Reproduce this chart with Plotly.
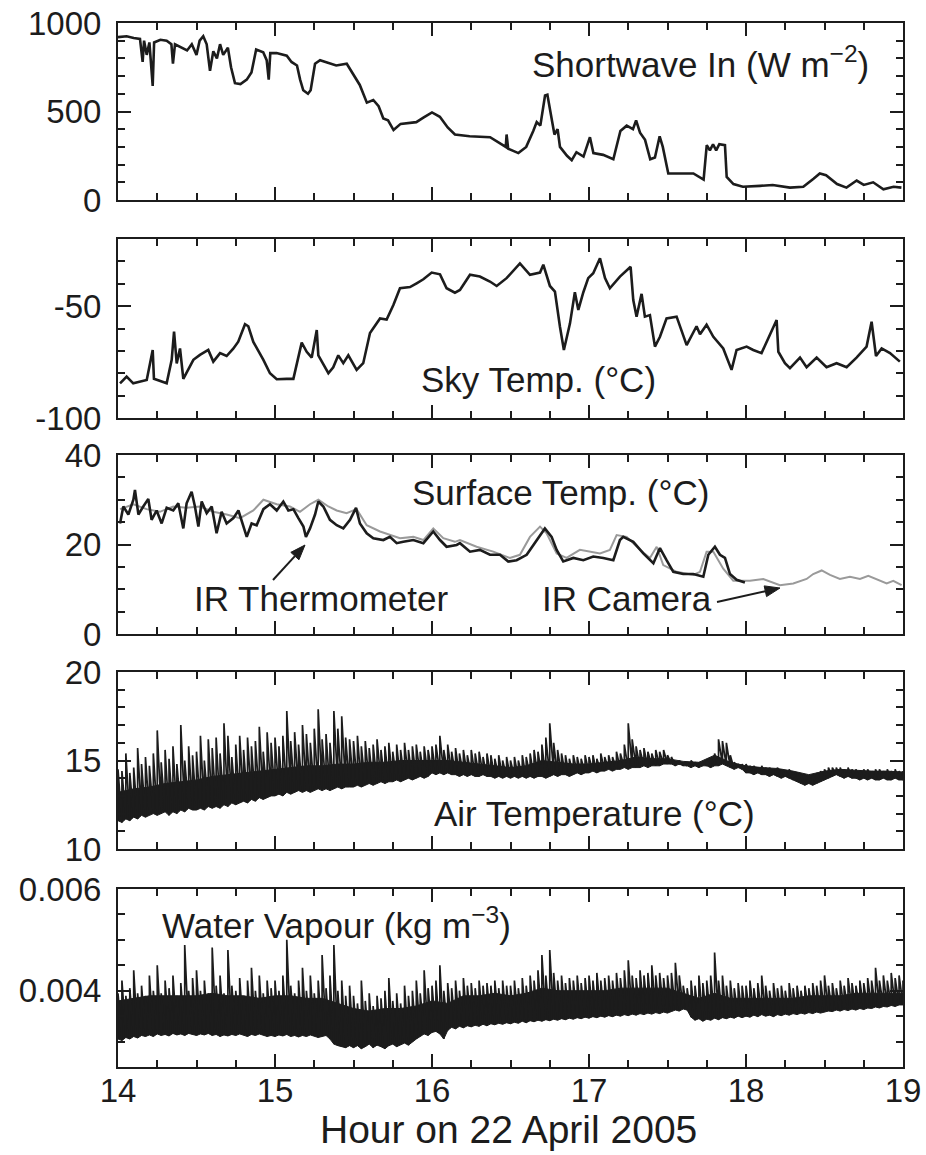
import numpy as np
import plotly.graph_objects as go

# ---------------------------------------------------------------------------
# Measurements, 22 April 2005, 14:00-19:00
# ---------------------------------------------------------------------------

# Shortwave in (W m-2)
sw_hour = [14.00, 14.055, 14.10, 14.14, 14.157, 14.166, 14.183, 14.20, 14.221, 14.23,
           14.27, 14.31, 14.34, 14.35, 14.363, 14.405, 14.44, 14.47, 14.50, 14.52,
           14.543, 14.565, 14.586, 14.607, 14.63, 14.65, 14.67, 14.70, 14.72, 14.745,
           14.78, 14.82, 14.85, 14.88, 14.925, 14.947, 14.96, 14.97, 15.01, 15.075,
           15.105, 15.14, 15.16, 15.18, 15.21, 15.227, 15.255, 15.287, 15.35, 15.39,
           15.457, 15.50, 15.54, 15.585, 15.626, 15.66, 15.69, 15.72, 15.755, 15.80,
           15.86, 15.90, 15.945, 16.00, 16.05, 16.10, 16.146, 16.24, 16.37, 16.43,
           16.47, 16.475, 16.485, 16.55, 16.60, 16.645, 16.667, 16.69, 16.72, 16.735,
           16.75, 16.77, 16.78, 16.80, 16.815, 16.86, 16.89, 16.92, 16.965, 17.006,
           17.028, 17.09, 17.155, 17.20, 17.24, 17.28, 17.30, 17.325, 17.357, 17.39,
           17.42, 17.45, 17.47, 17.505, 17.58, 17.665, 17.73, 17.75, 17.77, 17.79,
           17.81, 17.83, 17.866, 17.877, 17.92, 17.98, 18.09, 18.17, 18.28, 18.365,
           18.43, 18.47, 18.51, 18.58, 18.64, 18.705, 18.75, 18.81, 18.875, 18.94,
           18.99]
sw_val = [920, 925, 915, 910, 780, 900, 820, 890, 645, 890,
          905, 900, 880, 770, 880, 860, 845, 880, 820, 900,
          925, 880, 730, 840, 800, 880, 820, 860, 750, 660,
          655, 680, 720, 850, 835, 790, 680, 830, 830, 815,
          780, 760, 680, 620, 600, 620, 770, 790, 770, 760,
          770, 710, 650, 550, 565, 530, 460, 450, 395, 430,
          435, 440, 465, 495, 470, 410, 370, 360, 355, 320,
          300, 370, 290, 265, 300, 390, 440, 420, 590, 595,
          510, 420, 370, 400, 300, 250, 225, 270, 245, 355,
          265, 255, 230, 390, 420, 400, 450, 380, 340, 230,
          240, 360, 300, 150, 150, 150, 115, 310, 280, 315,
          280, 315, 310, 130, 90, 75, 80, 85, 70, 75,
          120, 150, 140, 90, 70, 110, 85, 100, 60, 75,
          70]

# Sky temperature (deg C)
sky_hour = [14.013, 14.055, 14.097, 14.183, 14.221, 14.229, 14.31, 14.342, 14.357, 14.374,
            14.395, 14.416, 14.48, 14.522, 14.575, 14.607, 14.65, 14.692, 14.734, 14.766,
            14.809, 14.83, 14.862, 14.926, 14.968, 15.011, 15.074, 15.117, 15.17, 15.202,
            15.234, 15.266, 15.276, 15.34, 15.371, 15.403, 15.435, 15.467, 15.52, 15.562,
            15.605, 15.669, 15.711, 15.754, 15.796, 15.86, 15.902, 15.945, 15.998, 16.051,
            16.093, 16.146,
            16.178, 16.242, 16.305, 16.369, 16.412, 16.475, 16.56, 16.624, 16.688, 16.709,
            16.751, 16.783, 16.815, 16.84, 16.879, 16.91, 16.932, 16.964, 16.995, 17.027,
            17.07, 17.102, 17.133, 17.197, 17.265, 17.282, 17.303, 17.335, 17.356, 17.388,
            17.42, 17.452, 17.494, 17.558, 17.622, 17.685, 17.707, 17.749, 17.792, 17.855,
            17.908, 17.94, 18.004, 18.046, 18.099, 18.152, 18.195, 18.206, 18.248, 18.28,
            18.344, 18.386, 18.45, 18.513, 18.577, 18.641, 18.704, 18.768, 18.8, 18.828,
            18.864, 18.917, 18.98]
sky_val = [-84.5, -81.5, -84.5, -83, -69.6, -82.5, -84.5, -74, -61.4, -75.6,
           -68.9, -82.5, -74, -71.8, -69.6, -74.8, -71, -72.3, -69, -65.9,
           -58.1, -59, -66, -74, -80, -82.7, -82.5, -82.5, -66.3, -70.4,
           -73, -60.7, -72, -80, -77.3, -72, -75.5, -72, -78.5, -75.5,
           -62, -55.5, -56, -49.5, -42, -41.5, -39.8, -38, -35, -35.8,
           -42, -44,
           -42.8, -36, -36.8, -39, -41, -37.5, -30.9, -36, -35, -31.5,
           -41, -43.5, -59.2, -69.6, -57.7, -43.8, -51.7, -43.8, -37.5, -35.3,
           -28.6, -37.5, -42, -36.8, -32.4, -47.3, -54.7, -44.5, -54.7, -54,
           -68.1, -63.7, -55.5, -54.7, -67.4, -59, -62.6, -58.3, -63.7, -68.9,
           -78.5, -69.6, -68.1, -69.6, -71, -62.6, -56.2, -70.4, -75.5, -77.7,
           -73, -77.3, -73, -77.3, -75.5, -77.3, -73, -68.1, -57, -72.3,
           -68.9, -71, -74.8]

# Surface temperature (deg C), IR thermometer
irt_hour = [14.013, 14.034, 14.066, 14.098, 14.108, 14.13, 14.161, 14.193, 14.214, 14.246,
            14.278, 14.31, 14.352, 14.384, 14.416, 14.437, 14.469, 14.49, 14.512, 14.533,
            14.565, 14.597, 14.628, 14.66, 14.692, 14.735, 14.767, 14.798, 14.82, 14.851,
            14.883, 14.926, 14.968, 15.011, 15.053, 15.085, 15.117, 15.149, 15.181, 15.197,
            15.223, 15.255, 15.276, 15.308, 15.35, 15.393, 15.435, 15.478, 15.516, 15.541,
            15.584, 15.626, 15.69, 15.732, 15.775, 15.817, 15.881, 15.945, 16.008, 16.051,
            16.093, 16.157,
            16.178, 16.242, 16.305, 16.369, 16.433, 16.486, 16.539, 16.603, 16.666, 16.719,
            16.762, 16.794, 16.836, 16.9, 16.964, 17.027, 17.091, 17.155, 17.197, 17.218,
            17.282, 17.346, 17.41, 17.452, 17.494, 17.537, 17.6, 17.664, 17.728, 17.76,
            17.802, 17.834, 17.866, 17.898, 17.94, 17.993]
irt_val = [24.7, 28.5, 26.7, 30, 32.2, 26.7, 28.5, 30.2, 25.5, 27.6,
           24.7, 28.2, 27.6, 29.2, 23.6, 29.2, 31.8, 28.5, 24, 29.6,
           27, 28.5, 22.5, 27.3, 24.7, 25.9, 27.6, 24, 21.7, 24.7,
           24.3, 27.9, 29, 27.6, 29.6, 27.6, 27.9, 25.9, 24, 21.7,
           23.6, 26.7, 29.6, 28.5, 25.5, 24.3, 23.6, 25.5, 28.2, 24.7,
           22.5, 21.4, 21, 21.7, 20.3, 20.6, 21, 20.3, 22.9, 21,
           19.5, 19.9,
           20.3, 18.4, 18.8, 17.7, 17.7, 16.2, 16.5, 17.7, 21, 23.6,
           21.7, 18.8, 16.2, 17, 16.5, 17.3, 17, 16.5, 21, 21.7,
           20.6, 18, 15.8, 19.2, 16.5, 13.9, 13.4, 13.4, 12.8, 17.7,
           19.5, 17.7, 17, 13.4, 12.1, 11.5]

# Surface temperature (deg C), IR camera
cam_hour = [14.013, 14.098, 14.182, 14.267, 14.352, 14.437, 14.522, 14.607, 14.692, 14.777,
            14.862, 14.926, 15.011, 15.095, 15.159, 15.223, 15.276, 15.34, 15.393, 15.456,
            15.52, 15.584, 15.669, 15.732, 15.796, 15.881, 15.945, 16.008, 16.072, 16.146,
            16.178, 16.284, 16.39, 16.496, 16.56, 16.624, 16.688, 16.73, 16.794, 16.857,
            16.942, 17.07, 17.133, 17.176, 17.24, 17.325, 17.388, 17.431, 17.473, 17.558,
            17.664, 17.707, 17.749, 17.792, 17.855, 17.919, 18.025, 18.11, 18.216, 18.301,
            18.386, 18.428, 18.482, 18.535, 18.598, 18.662, 18.726, 18.779, 18.832, 18.896,
            18.938, 18.991]
cam_val = [27.9, 29, 27.9, 27.3, 28.5, 28.2, 28.5, 27.3, 26.7, 25.9,
           27.6, 30, 29, 28.5, 27.3, 29, 30, 28.5, 27.6, 27,
           27.9, 24.3, 22.9, 22.1, 21.4, 21.7, 21, 23.6, 21.4, 20.6,
           21, 19.5, 18.4, 17, 17.7, 21.7, 24, 22.5, 18, 17,
           18.8, 18, 18.8, 22.1, 21.7, 18.8, 17, 19.5, 15.4, 13.9,
           13.2, 13.9, 18.4, 18.4, 14.6, 11.9, 11.9, 12.3, 10.9, 11.3,
           12.3, 13.4, 14.2, 13.2, 12.3, 12.8, 12.3, 13, 12.3, 11.3,
           11.9, 10.9]

# Fast-response records sampled every 0.025 h from 14:00 (lower / upper excursion per step)
FAST_STEP_H = 0.025
# Upper edge of the continuous part of the fast records, every 0.1 h from 14:00
CORE_STEP_H = 0.1

air_lo = [11.6, 11.5, 11.7, 11.6, 11.8, 11.7, 11.9, 11.8, 11.9, 12.0, 11.9, 12.0, 12.1, 11.9, 12.1, 12.0, 12.2, 12.1, 12.3, 12.2,
          12.2, 12.3, 12.2, 12.4, 12.3, 12.4, 12.3, 12.5, 12.4, 12.6, 12.5, 12.6, 12.7, 12.6, 12.8, 12.7, 12.9, 12.8, 12.9, 13.0,
          13.0, 13.1, 13.0, 13.2, 13.1, 13.2, 13.3, 13.2, 13.3, 13.2, 13.3, 13.4, 13.3, 13.4, 13.3, 13.4, 13.5, 13.4, 13.5, 13.5,
          13.5, 13.6, 13.5, 13.6, 13.7, 13.6, 13.7, 13.8, 13.7, 13.8, 13.8, 13.9, 13.8, 13.9, 14.0, 13.9, 14.0, 14.1, 14.0, 14.1,
          14.3, 14.2, 14.3, 14.2, 14.3, 14.2, 14.2, 14.1, 14.2, 14.1, 14.2, 14.1, 14.1, 14.2, 14.1, 14.1, 14.0, 14.1, 14.0, 14.1,
          14.0, 14.1, 14.0, 14.1, 14.0, 14.1, 14.0, 14.1, 14.1, 14.0, 14.1, 14.2, 14.1, 14.2, 14.2, 14.1, 14.2, 14.3, 14.2, 14.3,
          14.3, 14.4, 14.3, 14.4, 14.4, 14.5, 14.4, 14.5, 14.5, 14.6, 14.5, 14.6, 14.6, 14.6, 14.7, 14.6, 14.7, 14.7, 14.7, 14.8,
          14.8, 14.8, 14.7, 14.8, 14.7, 14.7, 14.6, 14.7, 14.6, 14.7, 14.7, 14.6, 14.7, 14.7, 14.8, 14.7, 14.6, 14.5, 14.6, 14.5,
          14.3, 14.3, 14.2, 14.3, 14.2, 14.2, 14.1, 14.2, 14.1, 14.0, 14.1, 14.0, 13.9, 13.8, 13.7, 13.6, 13.7, 13.6, 13.7, 13.8,
          13.9, 14.0, 14.1, 14.2, 14.1, 14.0, 14.1, 14.0, 14.0, 13.9, 14.0, 13.9, 14.0, 13.9, 13.9, 14.0, 13.9, 13.9, 14.0, 13.9,
          13.9]
air_hi = [14.5, 14.4, 15.4, 14.3, 14.6, 15.7, 14.8, 15.2, 14.7, 15.4, 16.7, 14.9, 15.6, 15.1, 15.8, 14.8, 17.0, 15.0, 15.8, 15.3,
          15.5, 16.4, 15.0, 16.2, 15.7, 16.3, 15.4, 17.1, 16.4, 15.2, 15.9, 16.4, 15.6, 16.3, 15.8, 16.1, 16.9, 15.5, 16.6, 16.0,
          16.3, 15.8, 16.4, 17.8, 16.1, 16.6, 15.9, 17.0, 16.5, 16.0, 16.8, 17.9, 16.2, 16.5, 16.0, 17.8, 16.8, 17.5, 16.3, 16.2,
          16.1, 16.4, 15.8, 16.1, 15.7, 15.9, 16.2, 15.6, 15.8, 16.0, 15.5, 15.9, 15.6, 16.0, 15.6, 15.8, 15.9, 15.5, 15.8, 15.6,
          15.8, 15.9, 16.4, 15.6, 15.9, 15.5, 15.7, 15.4, 15.6, 15.3, 15.6, 15.4, 15.5, 15.2, 15.4, 15.3, 15.1, 15.3, 15.0, 15.2,
          15.0, 15.2, 15.0, 15.3, 15.2, 15.4, 15.6, 15.5, 15.9, 16.3, 17.1, 16.0, 15.6, 15.4, 15.3, 15.1, 15.3, 15.2, 15.1, 15.3,
          15.2, 15.3, 15.1, 15.4, 15.2, 15.3, 15.2, 15.5, 15.4, 15.9, 17.1, 16.2, 15.8, 15.6, 15.7, 15.5, 15.4, 15.6, 15.5, 15.6,
          15.3, 15.2, 14.9, 15.0, 14.9, 14.9, 15.0, 14.9, 14.9, 14.9, 15.0, 15.1, 15.4, 16.2, 16.1, 16.0, 15.3, 14.9, 14.8, 14.8,
          14.8, 14.7, 14.7, 14.6, 14.7, 14.6, 14.6, 14.5, 14.6, 14.5, 14.4, 14.5, 14.3, 14.3, 14.2, 14.2, 14.1, 14.2, 14.3, 14.4,
          14.5, 14.6, 14.6, 14.6, 14.6, 14.5, 14.6, 14.5, 14.5, 14.4, 14.5, 14.5, 14.4, 14.5, 14.5, 14.4, 14.5, 14.4, 14.5, 14.4,
          14.4]
air_core = [13.2, 13.4, 13.5, 13.7, 13.8, 13.9, 14.1, 14.2, 14.3, 14.4,
            14.5, 14.6, 14.7, 14.7, 14.8, 14.8, 14.9, 14.9, 15.0, 15.0,
            15.0, 15.0, 14.9, 14.8, 14.7, 14.6, 14.7, 15.0, 14.9, 14.8,
            14.8, 14.9, 15.0, 15.2, 15.1, 15.1, 14.95, 14.9, 15.3, 14.9,
            14.7, 14.6, 14.55, 14.4, 14.2, 14.4, 14.5, 14.45, 14.4, 14.4,
            14.35]

# Water vapour density, g m-3 (plotted in kg m-3)
vap_lo_g = [3.05, 3.02, 3.08, 3.05, 3.10, 3.07, 3.12, 3.10, 3.13, 3.10, 3.15, 3.12, 3.14, 3.11, 3.16, 3.13, 3.15, 3.12, 3.16, 3.14,
            3.12, 3.15, 3.13, 3.16, 3.12, 3.14, 3.10, 3.13, 3.11, 3.14, 3.12, 3.15, 3.13, 3.10, 3.14, 3.12, 3.15, 3.13, 3.10, 3.12,
            3.10, 3.13, 3.11, 3.14, 3.10, 3.12, 3.09, 3.12, 3.10, 3.13, 3.11, 3.08, 3.10, 3.12, 3.05, 2.95, 2.92, 2.90, 2.88, 2.92,
            2.88, 2.92, 2.86, 2.90, 2.95, 2.88, 2.93, 2.90, 2.86, 2.92, 2.95, 2.90, 2.94, 2.97, 2.93, 3.00, 3.05, 3.10, 3.15, 3.12,
            3.18, 3.20, 3.15, 3.05, 3.22, 3.28, 3.25, 3.30, 3.27, 3.31, 3.29, 3.32, 3.30, 3.34, 3.31, 3.35, 3.33, 3.36, 3.34, 3.37,
            3.35, 3.38, 3.36, 3.40, 3.37, 3.41, 3.39, 3.42, 3.40, 3.43, 3.41, 3.44, 3.42, 3.45, 3.43, 3.46, 3.44, 3.47, 3.45, 3.48,
            3.46, 3.49, 3.47, 3.50, 3.48, 3.51, 3.49, 3.52, 3.50, 3.53, 3.51, 3.54, 3.52, 3.55, 3.53, 3.56, 3.54, 3.57, 3.55, 3.58,
            3.56, 3.59, 3.62, 3.60, 3.64, 3.62, 3.48, 3.42, 3.45, 3.40, 3.44, 3.42, 3.46, 3.43, 3.47, 3.45, 3.48, 3.46, 3.50, 3.47,
            3.50, 3.48, 3.52, 3.49, 3.53, 3.50, 3.52, 3.49, 3.53, 3.51, 3.54, 3.52, 3.55, 3.53, 3.56, 3.54, 3.57, 3.55, 3.58, 3.56,
            3.58, 3.60, 3.59, 3.62, 3.60, 3.63, 3.61, 3.64, 3.62, 3.65, 3.63, 3.66, 3.65, 3.68, 3.66, 3.69, 3.68, 3.71, 3.69, 3.72,
            3.72]
vap_hi_g = [3.95, 4.2, 3.9, 4.05, 4.4, 3.95, 4.1, 3.9, 4.3, 4.0, 4.5, 3.95, 4.2, 4.05, 4.3, 3.9, 4.15, 4.9, 4.0, 4.25,
            4.4, 4.0, 4.2, 3.95, 4.85, 4.1, 4.3, 3.95, 4.8, 4.1, 4.0, 4.25, 3.9, 4.2, 4.45, 4.0, 4.3, 3.95, 4.2, 4.05,
            4.2, 4.0, 4.3, 5.0, 4.1, 3.95, 4.2, 4.45, 4.0, 4.3, 3.95, 4.2, 4.7, 4.05, 4.3, 4.9, 4.0, 4.2, 3.9, 4.1,
            3.9, 3.75, 4.2, 3.8, 3.95, 3.7, 3.9, 3.85, 4.0, 4.25, 3.8, 3.95, 3.75, 4.1, 3.9, 4.0, 4.2, 3.95, 4.4, 4.05,
            4.1, 4.2, 4.5, 4.0, 4.15, 4.05, 4.2, 4.0, 4.25, 4.1, 4.15, 4.05, 4.2, 4.1, 4.15, 4.1, 4.2, 4.05, 4.2, 4.1,
            4.1, 4.2, 4.05, 4.25, 4.1, 4.3, 4.2, 4.4, 4.7, 4.3, 4.8, 4.35, 4.2, 4.3, 4.15, 4.25, 4.2, 4.3, 4.15, 4.25,
            4.3, 4.2, 4.35, 4.2, 4.25, 4.3, 4.2, 4.35, 4.25, 4.4, 4.6, 4.3, 4.25, 4.4, 4.3, 4.35, 4.5, 4.3, 4.35, 4.25,
            4.3, 4.35, 4.55, 4.3, 4.1, 4.05, 4.2, 4.1, 4.3, 4.15, 4.2, 4.3, 4.75, 4.2, 4.3, 4.1, 4.2, 4.05, 4.15, 4.1,
            4.1, 4.2, 4.05, 4.15, 4.3, 4.1, 4.0, 4.15, 4.05, 4.1, 4.0, 4.15, 4.05, 4.1, 4.0, 4.1, 4.05, 4.15, 4.1, 4.2,
            4.3, 4.1, 4.15, 4.05, 4.2, 4.1, 4.25, 4.15, 4.1, 4.2, 4.15, 4.25, 4.2, 4.45, 4.2, 4.3, 4.2, 4.35, 4.25, 4.3,
            4.2]
vap_core_g = [3.8, 3.85, 3.9, 3.9, 3.9, 3.9, 3.95, 3.9, 3.9, 3.85,
              3.9, 3.9, 3.85, 3.85, 3.75, 3.65, 3.6, 3.65, 3.65, 3.7,
              3.8, 3.75, 3.9, 3.9, 3.95, 3.9, 3.95, 4.05, 4.0, 4.0,
              4.0, 4.0, 4.05, 4.05, 4.05, 4.05, 3.95, 3.85, 3.95, 3.85,
              3.85, 3.85, 3.85, 3.85, 3.9, 3.9, 3.9, 3.95, 3.95, 3.95,
              3.95]

# Axis tick labels
x_ticks = [14, 15, 16, 17, 18, 19]
y_ticks = [
    ([0, 500, 1000], ["0", "500", "1000"]),
    ([-100, -50], ["-100", "-50"]),
    ([0, 20, 40], ["0", "20", "40"]),
    ([10, 15, 20], ["10", "15", "20"]),
    ([0.004, 0.006], ["0.004", "0.006"]),
]

# ---------------------------------------------------------------------------
# Page geometry (pixels)
# ---------------------------------------------------------------------------
W, H = 926, 1155
PLOT_L, PLOT_R = 118, 903
PANELS = [(23, 200), (239, 418), (455, 634), (672, 849), (889, 1067)]
Y_RANGES = [[0, 1000], [-100, -20], [0, 40], [10, 20], [0.0025, 0.006]]
Y_MINOR = [(0, 100), (-100, 10), (0, 5), (10, 1), (0.0025, 0.0005)]

INK = "#1c1c1c"
FONT = "Liberation Sans, Arial, Helvetica, sans-serif"


def px(x):
    return x / W


def py(y):
    return 1 - y / H


def zigzag(t, lo, hi):
    """Trace that runs low -> high at every sample, so dense records read as a band."""
    xs = np.repeat(np.asarray(t), 2)
    ys = np.column_stack([lo, hi]).ravel()
    return xs, ys


fig = go.Figure()


def axes_of(panel):
    return ("x", "y") if panel == 1 else (f"x{panel}", f"y{panel}")


def add_line(panel, x, y, color=INK, width=2.0):
    xa, ya = axes_of(panel)
    fig.add_trace(go.Scatter(
        x=x, y=y, mode="lines",
        line=dict(color=color, width=width, shape="linear"),
        xaxis=xa, yaxis=ya, hoverinfo="skip", showlegend=False,
    ))


def add_band(panel, t_lo, lo, t_top, top):
    """Solid fill between the lower excursions and the upper edge of the continuous part."""
    xa, ya = axes_of(panel)
    xs = np.concatenate([np.asarray(t_lo), np.asarray(t_top)[::-1]])
    ys = np.concatenate([np.asarray(lo), np.asarray(top)[::-1]])
    fig.add_trace(go.Scatter(
        x=xs, y=ys, mode="lines", fill="toself", fillcolor=INK,
        line=dict(color=INK, width=1), xaxis=xa, yaxis=ya,
        hoverinfo="skip", showlegend=False,
    ))


add_line(1, sw_hour, sw_val, width=2.6)
add_line(2, sky_hour, sky_val, width=2.6)
add_line(3, cam_hour, cam_val, color="#9a9a9a", width=2.0)
add_line(3, irt_hour, irt_val, width=2.6)

fast_t = 14 + FAST_STEP_H * np.arange(len(air_lo))
core_t = 14 + CORE_STEP_H * np.arange(len(air_core))
add_band(4, fast_t, air_lo, core_t, air_core)
ax_, ay_ = zigzag(fast_t, air_lo, air_hi)
add_line(4, ax_, ay_, width=1.7)

vap_t = 14 + FAST_STEP_H * np.arange(len(vap_lo_g))
vcore_t = 14 + CORE_STEP_H * np.arange(len(vap_core_g))
vap_lo = np.array(vap_lo_g) / 1000.0
vap_hi = np.array(vap_hi_g) / 1000.0
vap_core = np.array(vap_core_g) / 1000.0
add_band(5, vap_t, vap_lo, vcore_t, vap_core)
vx_, vy_ = zigzag(vap_t, vap_lo, vap_hi)
add_line(5, vx_, vy_, width=1.7)

layout = dict(
    width=W, height=H,
    margin=dict(l=0, r=0, t=0, b=0, autoexpand=False),
    paper_bgcolor="white", plot_bgcolor="white",
    font=dict(family=FONT, color=INK),
    showlegend=False,
)

for i, ((top, bot), yr, (m0, md), (tv, tt)) in enumerate(zip(PANELS, Y_RANGES, Y_MINOR, y_ticks), start=1):
    xs = "" if i == 1 else str(i)
    layout[f"xaxis{xs}"] = dict(
        domain=[px(PLOT_L), px(PLOT_R)], anchor=f"y{xs}", automargin=False,
        range=[14, 19], tickmode="array", tickvals=x_ticks,
        ticktext=[str(v) for v in x_ticks],
        showticklabels=(i == 5), ticks="inside", ticklen=13, tickwidth=2, tickcolor=INK,
        minor=dict(ticks="inside", ticklen=7, tickwidth=1.6, tickcolor=INK, tick0=14, dtick=0.25),
        showline=True, linewidth=2, linecolor=INK, mirror="ticks",
        showgrid=False, zeroline=False, fixedrange=True,
        tickfont=dict(family=FONT, size=33, color=INK), ticklabelstandoff=-7,
    )
    layout[f"yaxis{xs}"] = dict(
        domain=[py(bot), py(top)], anchor=f"x{xs}", automargin=False,
        range=yr, tickmode="array", tickvals=tv, ticktext=tt,
        ticks="inside", ticklen=13, tickwidth=2, tickcolor=INK,
        minor=dict(ticks="inside", ticklen=7, tickwidth=1.6, tickcolor=INK, tick0=m0, dtick=md),
        showline=True, linewidth=2, linecolor=INK, mirror="ticks",
        showgrid=False, zeroline=False, fixedrange=True,
        tickfont=dict(family=FONT, size=33, color=INK), ticklabelstandoff=8,
    )

fig.update_layout(**layout)


def label(text, x, y, anchor="center", size=35):
    fig.add_annotation(text=text, x=px(x), y=py(y), xref="paper", yref="paper",
                       xanchor=anchor, yanchor="middle", showarrow=False,
                       font=dict(family=FONT, size=size, color=INK))


label("Shortwave In (W m<sup>−2</sup>)", 700, 62)
label("Sky Temp. (°C)", 538, 380)
label("Surface Temp. (°C)", 560, 493)
label("IR Thermometer", 321, 598)
label("IR Camera", 714, 598, anchor="right")
label("Air Temperature (°C)", 594, 813)
label("Water Vapour (kg m<sup>−3</sup>)", 336, 923)
label("Hour on 22 April 2005", 508, 1129, size=39)


def arrow(tail, head, head_len=15, head_half=5.5):
    """Pointer drawn as a shaft plus a filled triangular head (page pixels)."""
    tx, ty = tail
    hx, hy = head
    d = np.array([hx - tx, hy - ty], dtype=float)
    d /= np.hypot(*d)
    n = np.array([-d[1], d[0]])
    base = np.array([hx, hy]) - head_len * d
    p1 = base + head_half * n
    p2 = base - head_half * n
    fig.add_shape(type="line", xref="paper", yref="paper",
                  x0=px(tx), y0=py(ty), x1=px(base[0]), y1=py(base[1]),
                  line=dict(color=INK, width=2))
    path = (f"M {px(hx)},{py(hy)} L {px(p1[0])},{py(p1[1])} "
            f"L {px(p2[0])},{py(p2[1])} Z")
    fig.add_shape(type="path", xref="paper", yref="paper", path=path,
                  fillcolor=INK, line=dict(color=INK, width=1))


arrow((273, 580), (305, 545))
arrow((717, 602), (780, 588))

fig.write_html("out.html")
